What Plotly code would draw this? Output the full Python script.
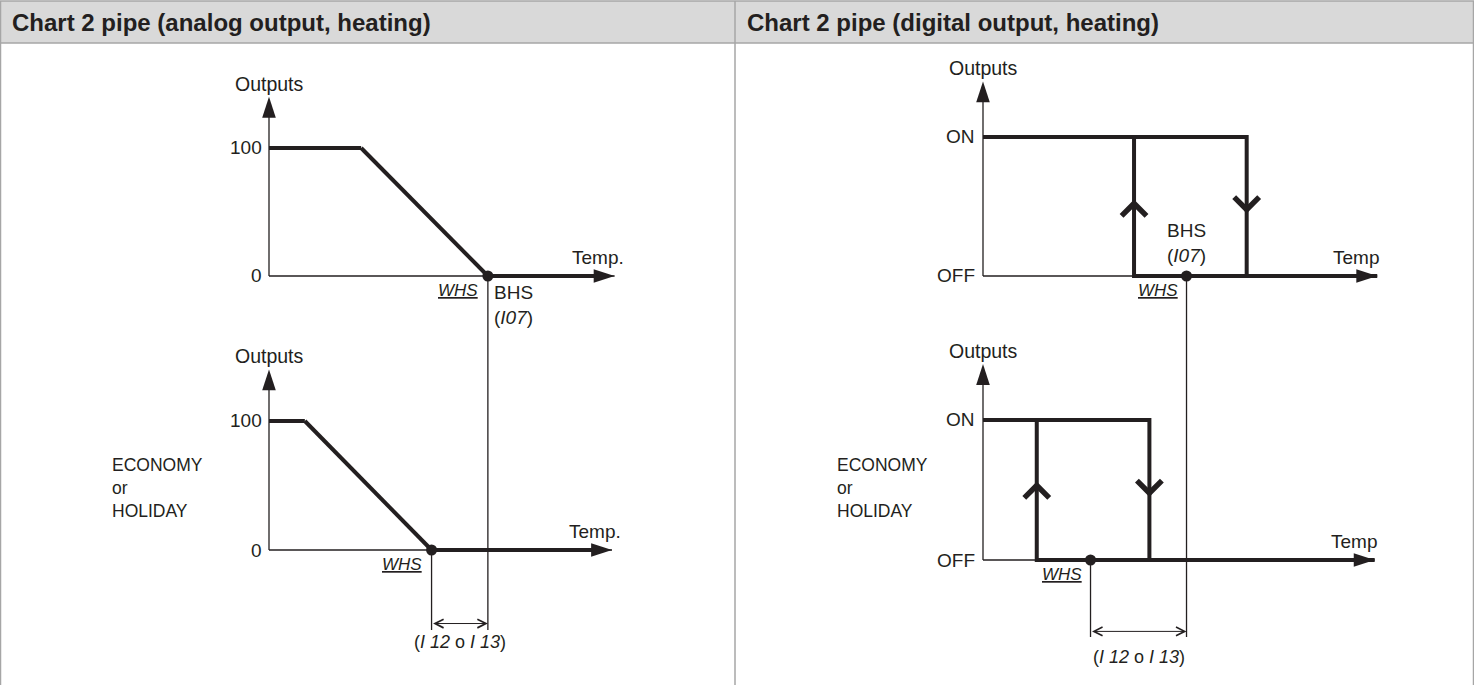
import plotly.graph_objects as go

W, H = 1474, 685
INK = "#231f20"
GRID = "#a6a6a6"
FONT = "Liberation Sans, Arial, sans-serif"

# ---- left column: analog output, temperature in arbitrary units, output in %
ana_top_x = [0, 3.6, 8.55, 13.5]
ana_top_y = [100, 100, 0, 0]
ana_bot_x = [0, 1.4, 6.35, 13.4]
ana_bot_y = [100, 100, 0, 0]
ana_bhs = 8.55          # BHS (I07) on the comfort chart
ana_whs_eco = 6.35      # WHS in economy / holiday
ana_y_top = 140         # end of the Outputs axis
ana_ticks = [0, 100]
ana_dim_y = -57         # level of the (I12 o I13) dimension line

# ---- right column: digital output, 0 = OFF, 1 = ON
dig_top_x = [0, 10.3, 10.3, None, 5.9, 5.9, 15.4]
dig_top_y = [1, 1, 0, None, 1, 0, 0]
dig_bot_x = [0, 6.5, 6.5, None, 2.1, 2.1, 15.3]
dig_bot_y = [1, 1, 0, None, 1, 0, 0]
dig_top_marks = [(5.9, 0.55, "up"), (10.3, 0.45, "down")]
dig_bot_marks = [(2.1, 0.56, "up"), (6.5, 0.45, "down")]
dig_bhs = 7.95
dig_whs_eco = 4.2
dig_y_top = 1.4
dig_ticks = [0, 1]
dig_ticktext = ["OFF", "ON"]
dig_dim_y = -0.51

titles = ["Chart 2 pipe (analog output, heating)", "Chart 2 pipe (digital output, heating)"]


def axis_range(lo, hi, px_a, val_a, px_b, val_b):
    k = (val_b - val_a) / (px_b - px_a)
    return [val_a + (lo - px_a) * k, val_a + (hi - px_a) * k]


HEAD = 43
SPLIT = 335
MID = 735

fig = go.Figure()

axes = {
    "xaxis": dict(domain=[0, MID / W], range=axis_range(0, MID, 269, 0, 525, 10), anchor="y"),
    "xaxis2": dict(domain=[MID / W, 1], range=axis_range(MID, W, 983, 0, 1239, 10), anchor="y3"),
    "yaxis": dict(domain=[1 - SPLIT / H, 1 - HEAD / H], range=axis_range(SPLIT, HEAD, 276, 0, 148, 100), anchor="x"),
    "yaxis2": dict(domain=[0, 1 - SPLIT / H], range=axis_range(H, SPLIT, 550, 0, 421, 100), anchor="x"),
    "yaxis3": dict(domain=[1 - SPLIT / H, 1 - HEAD / H], range=axis_range(SPLIT, HEAD, 276, 0, 137, 1), anchor="x2"),
    "yaxis4": dict(domain=[0, 1 - SPLIT / H], range=axis_range(H, SPLIT, 560, 0, 420, 1), anchor="x2"),
}
for k, v in axes.items():
    v.update(visible=False, fixedrange=True)
fig.update_layout(**axes)

HEAD_SIZE = 22


def head_marker(n):
    # arrow head on the last point only, pointing along the last segment
    return dict(symbol="arrow", angleref="previous", color=INK, opacity=1,
                line=dict(width=0), size=[0] * (n - 1) + [HEAD_SIZE])


def thin(xa, ya, xs, ys, head=False):
    fig.add_trace(go.Scatter(
        x=xs, y=ys, xaxis=xa, yaxis=ya, mode="lines+markers" if head else "lines",
        line=dict(color=INK, width=1.3),
        marker=head_marker(len(xs)) if head else None,
        hoverinfo="skip", showlegend=False,
    ))


def thick(xa, ya, xs, ys):
    fig.add_trace(go.Scatter(
        x=xs, y=ys, xaxis=xa, yaxis=ya, mode="lines+markers",
        line=dict(color=INK, width=4), marker=head_marker(len(xs)),
        hoverinfo="skip", showlegend=False,
    ))


def dot(xa, ya, x0):
    fig.add_trace(go.Scatter(
        x=[x0], y=[0], xaxis=xa, yaxis=ya, mode="markers",
        marker=dict(color=INK, size=11), hoverinfo="skip", showlegend=False,
    ))


def label(xa, ya, x, y, text, size=19, **kw):
    base = dict(xref=xa, yref=ya, x=x, y=y, text=text, showarrow=False,
                font=dict(family=FONT, size=size, color=INK))
    base.update(kw)
    fig.add_annotation(**base)


def dimension(xa, ya, x0, x1, y):
    fig.add_annotation(xref=xa, yref=ya, axref=xa, ayref=ya, x=x1, y=y, ax=x0, ay=y,
                       text="", showarrow=True, arrowside="end+start",
                       arrowhead=5, startarrowhead=5, arrowsize=1.7, startarrowsize=1.7,
                       arrowwidth=1, arrowcolor=INK)


# ---------- left column ----------
for ya, xs, ys in [("y", ana_top_x, ana_top_y), ("y2", ana_bot_x, ana_bot_y)]:
    thin("x", ya, [0, 0], [0, ana_y_top], head=True)
    thin("x", ya, [0, xs[-1]], [0, 0])
    thick("x", ya, xs, ys)
    dot("x", ya, xs[2])
    label("x", ya, 0, ana_y_top, "Outputs", size=19.5, yanchor="bottom", yshift=0)
    for t in ana_ticks:
        label("x", ya, 0, t, str(t), xanchor="right", xshift=-5)
    label("x", ya, xs[-1], 0, "Temp.", xanchor="right", xshift=11, yanchor="bottom", yshift=6)
    label("x", ya, xs[2], 0, "<i><u>WHS</u></i>", size=17, xanchor="right", xshift=-8,
          yanchor="top", yshift=-3)

label("x", "y", ana_bhs, 0, "BHS<br>(<i>I07</i>)", xanchor="left", align="left", xshift=4,
      yanchor="top", yshift=-4)
thin("x", "y", [ana_bhs, ana_bhs], [0, -300])
thin("x", "y2", [ana_bhs, ana_bhs], [300, ana_dim_y - 5])
thin("x", "y2", [ana_whs_eco, ana_whs_eco], [0, ana_dim_y - 5])
dimension("x", "y2", ana_whs_eco, ana_bhs, ana_dim_y)
label("x", "y2", (ana_bhs + ana_whs_eco) / 2, ana_dim_y, "(<i>I 12</i> o <i>I 13</i>)",
      size=18, yanchor="top", yshift=-6)

# ---------- right column ----------
for ya, xs, ys, marks in [("y3", dig_top_x, dig_top_y, dig_top_marks),
                          ("y4", dig_bot_x, dig_bot_y, dig_bot_marks)]:
    thin("x2", ya, [0, 0], [0, dig_y_top], head=True)
    thin("x2", ya, [0, xs[-1]], [0, 0])
    thick("x2", ya, xs, ys)
    label("x2", ya, 0, dig_y_top, "Outputs", size=19.5, yanchor="bottom", yshift=0)
    for t, tt in zip(dig_ticks, dig_ticktext):
        label("x2", ya, 0, t, tt, xanchor="right", xshift=-6)
    label("x2", ya, xs[-1], 0, "Temp", xanchor="right", xshift=4, yanchor="bottom", yshift=6)
    for mx, my, d in marks:
        tail = my - 0.1 if d == "up" else my + 0.1
        fig.add_annotation(xref="x2", yref=ya, axref="x2", ayref=ya, x=mx, y=my, ax=mx, ay=tail,
                           text="", showarrow=True, arrowhead=4, arrowsize=2.4, arrowwidth=2,
                           arrowcolor=INK)

dot("x2", "y3", dig_bhs)
dot("x2", "y4", dig_whs_eco)
label("x2", "y3", dig_bhs, 0, "BHS<br>(<i>I07</i>)", yanchor="bottom", yshift=8)
label("x2", "y3", dig_bhs, 0, "<i><u>WHS</u></i>", size=17, xanchor="right", xshift=-7,
      yanchor="top", yshift=-3)
label("x2", "y4", dig_whs_eco, 0, "<i><u>WHS</u></i>", size=17, xanchor="right", xshift=-7,
      yanchor="top", yshift=-3)
thin("x2", "y3", [dig_bhs, dig_bhs], [0, -3])
thin("x2", "y4", [dig_bhs, dig_bhs], [3, dig_dim_y - 0.04])
thin("x2", "y4", [dig_whs_eco, dig_whs_eco], [0, dig_dim_y - 0.04])
dimension("x2", "y4", dig_whs_eco, dig_bhs, dig_dim_y)
label("x2", "y4", (dig_bhs + dig_whs_eco) / 2, dig_dim_y, "(<i>I 12</i> o <i>I 13</i>)",
      size=18, yanchor="top", yshift=-14)

# mode captions
for px in (110, 835):
    fig.add_annotation(xref="paper", yref="paper", x=px / W, y=1 - 488 / H, text="ECONOMY<br>or<br>HOLIDAY",
                       showarrow=False, xanchor="left", yanchor="middle", align="left",
                       font=dict(family=FONT, size=17.5, color=INK))

# table frame: header band and borders
fig.add_shape(type="rect", xref="paper", yref="paper", x0=0, x1=1, y0=1 - HEAD / H, y1=1 - 1 / H,
              fillcolor="#d9d9d9", line=dict(color=GRID, width=1.5), layer="below")
for xp in (0.5, MID, W - 0.5):
    fig.add_shape(type="line", xref="paper", yref="paper", x0=xp / W, x1=xp / W, y0=0, y1=1 - 1 / H,
                  line=dict(color=GRID, width=1.5))
for i, t in enumerate(titles):
    fig.add_annotation(xref="paper", yref="paper", x=(10 + i * MID) / W, y=1 - 22 / H,
                       text="<b>" + t + "</b>", showarrow=False, xanchor="left", yanchor="middle",
                       font=dict(family=FONT, size=24, color=INK))

fig.update_layout(width=W, height=H, margin=dict(l=0, r=0, t=0, b=0),
                  paper_bgcolor="white", plot_bgcolor="rgba(0,0,0,0)")
fig.write_html("out.html", config={"displayModeBar": False},
               post_script="document.body.style.margin='0';document.body.style.overflow='hidden';")
